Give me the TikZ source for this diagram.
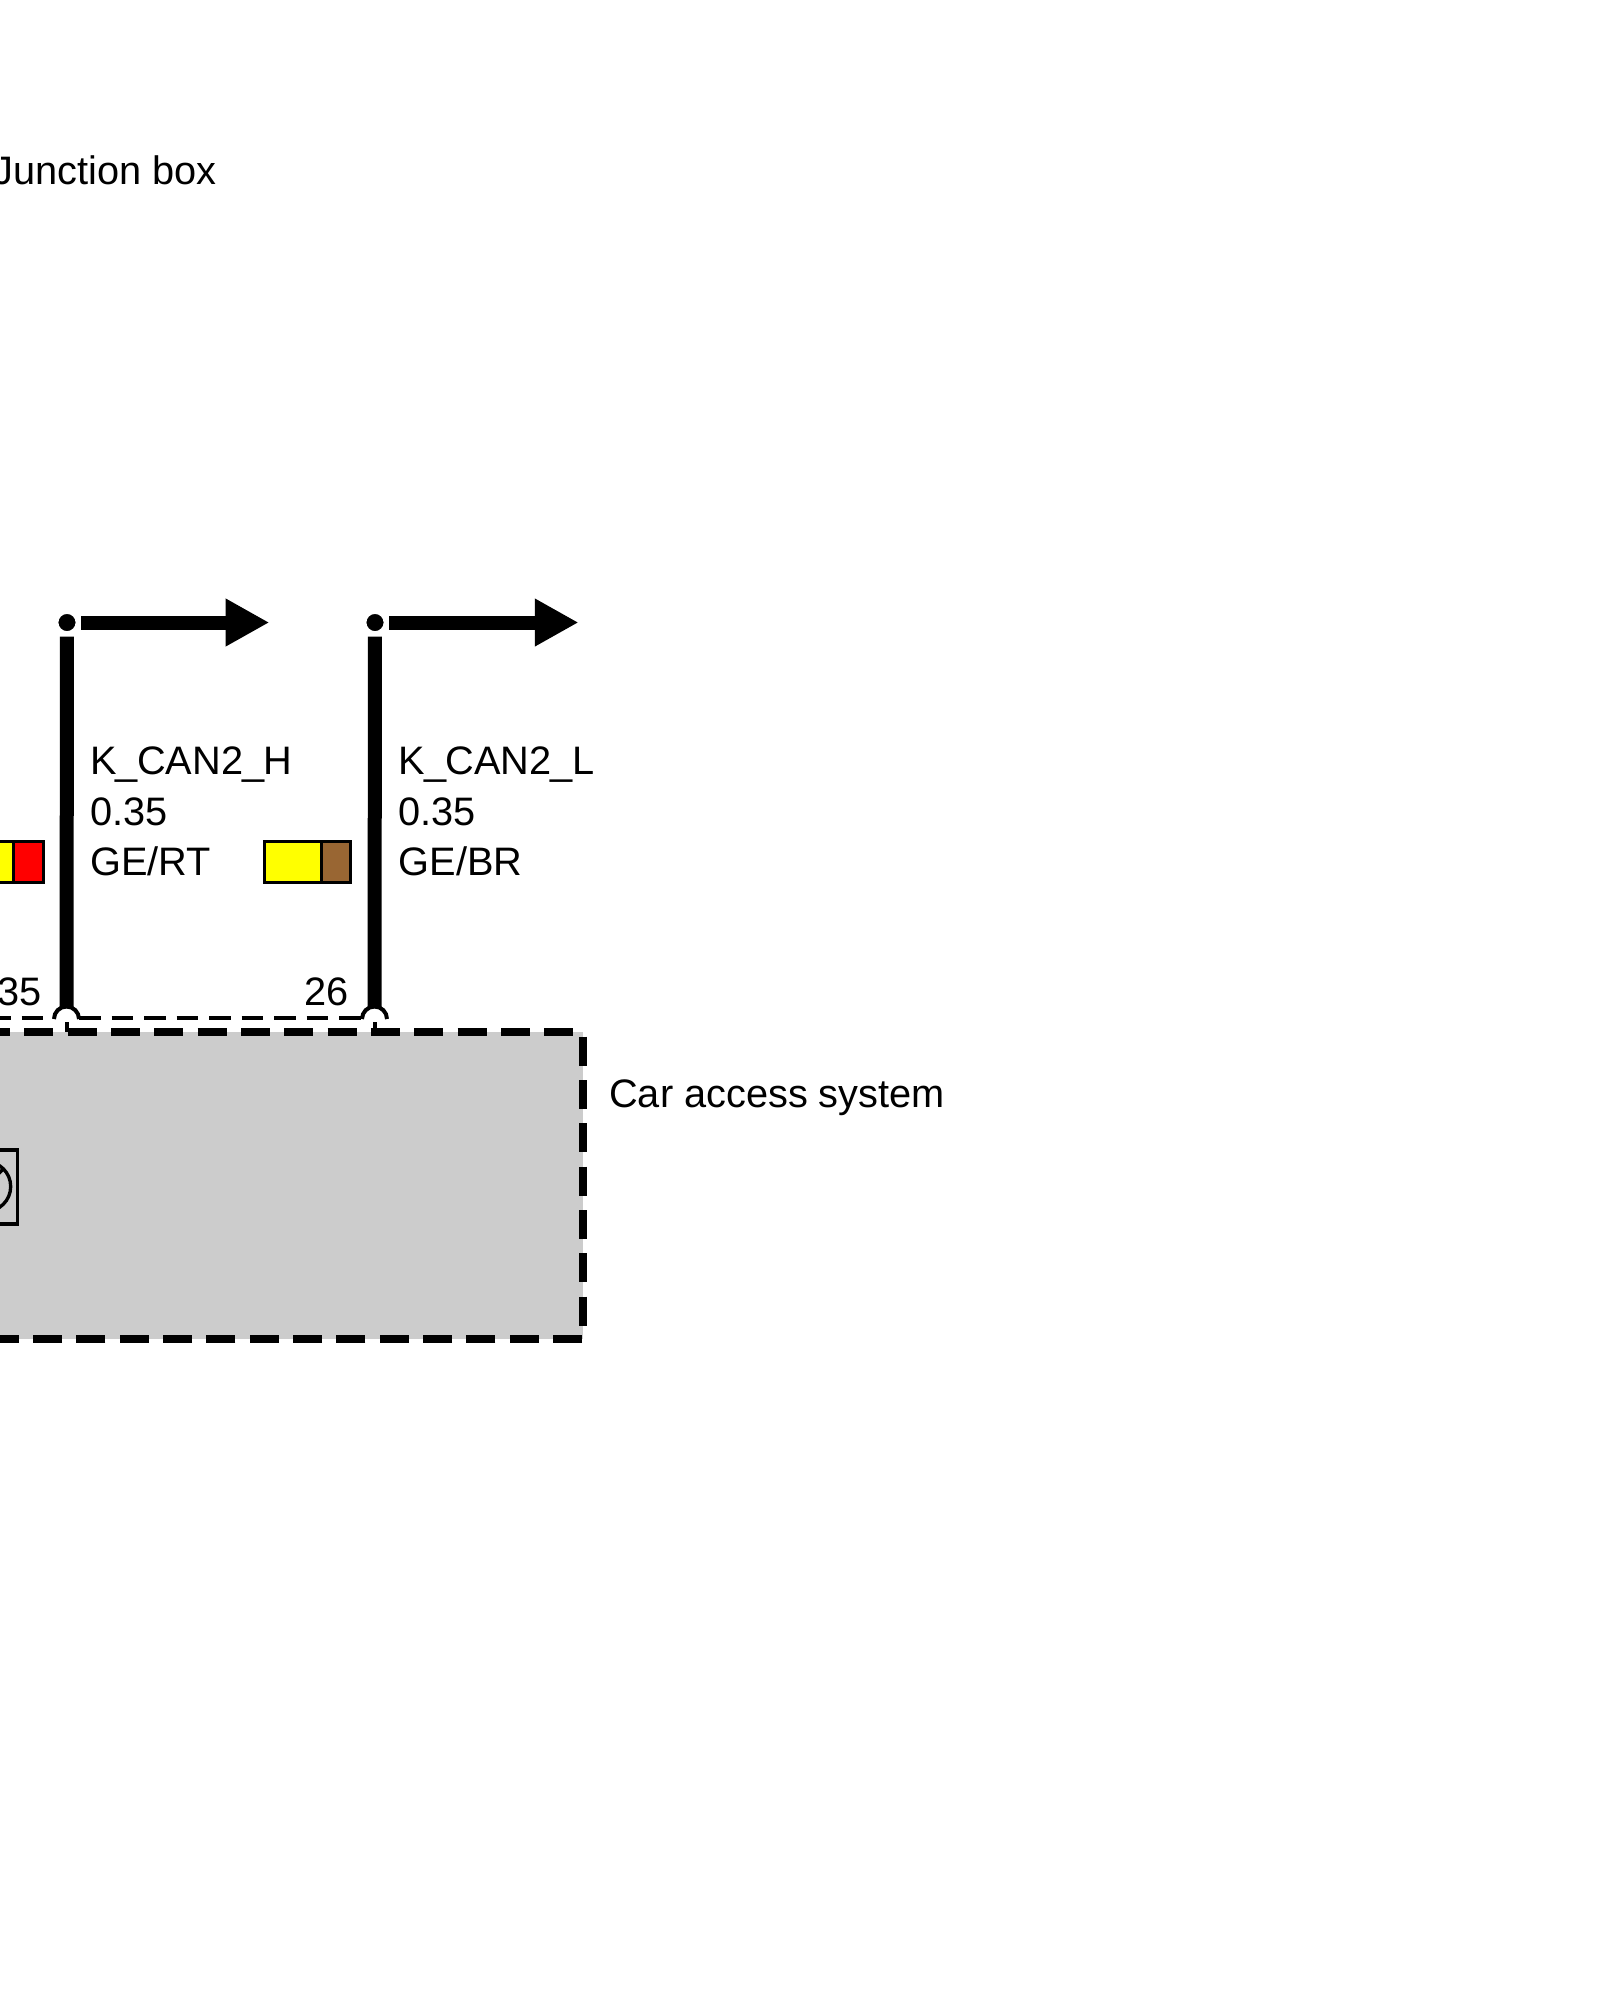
\documentclass[tikz,border=0pt]{standalone}
\usepackage{fontspec}
\setmainfont{Liberation Sans}
\usetikzlibrary{arrows.meta}
\definecolor{boxgrey}{HTML}{CCCCCC}
\definecolor{wirebrown}{HTML}{996633}
\definecolor{wireyellow}{HTML}{FFFF00}
\definecolor{wirered}{HTML}{FF0000}
\newcommand{\usc}{\kern-0.6pt\_\kern-0.6pt}
\tikzset{
    wire/.style={line width=10.5pt},
    busarrow/.style={line width=10.5pt,-{Triangle[length=32.7pt,width=33.5pt]}},
    junction/.style={circle,fill=black,draw=white,line width=5pt,inner sep=0pt,minimum size=18pt,outer sep=1.6pt},
    label/.style={inner sep=0pt,anchor=base west,font=\fontsize{29.8}{38}\selectfont},
    chip/.style={draw=black,line width=2.5pt},
    shield/.style={line width=2.6pt,dash pattern=on 16.2pt off 8.2pt},
    housing/.style={line width=5.5pt,dash pattern=on 21.75pt off 10.75pt},
}
\begin{document}
\begin{tikzpicture}[x=0.75pt,y=-0.75pt]
    \useasboundingbox (0,0) rectangle (1600,2000);
    \clip (0,0) rectangle (1600,2000);

    % control unit
    \fill[boxgrey] (-19,1032) rectangle (583,1339);
    \draw[housing] (-19,1032) -- (583,1032) -- (583,1339) -- (-19,1339);
    \draw[chip] (-60,1150) rectangle (17.5,1224);
    \draw[chip] (-14.3,1186.5) circle [radius=25];
    \draw[chip] (-14.3,1186.5) -- (3.4,1168.8);

    % shield between the pins
    \coordinate (shieldA) at (-10.8,1018);
    \coordinate (shieldB) at (53,1018);
    \coordinate (shieldC) at (79,1018);
    \coordinate (shieldD) at (361,1018);
    \draw[shield] (shieldA) -- (shieldB);
    \draw[shield] (shieldC) -- (shieldD);

    % pins
    \foreach \name/\xpos in {pinH/66.5,pinL/374.5}{
        \coordinate (\name) at (\xpos,1019);
        \draw[line width=3pt,fill=white] (\xpos-12.5,1019) arc [start angle=180,end angle=360,radius=12.5];
        \draw[line width=3pt] (\xpos,1022) -- (\xpos,1032);
    }

    % wires
    \node[junction] (dotH) at (67,622.5) {};
    \node[junction] (dotL) at (375,622.5) {};
    \coordinate (wireH) at (66.5,1008);
    \coordinate (wireL) at (374.5,1008);
    \coordinate (tipH) at (269.3,622.5);
    \coordinate (tipL) at (578.5,622.5);
    \draw[wire] (dotH) -- (wireH);
    \draw[wire] (dotL) -- (wireL);
    \draw[busarrow] (dotH) -- (tipH);
    \draw[busarrow] (dotL) -- (tipL);

    % colour chips
    \draw[chip,fill=wireyellow] (-44,841.7) rectangle (13.2,882.3);
    \draw[chip,fill=wirered] (13.2,841.7) rectangle (43.2,882.3);
    \draw[chip,fill=wireyellow] (264.4,841.7) rectangle (321.7,882.3);
    \draw[chip,fill=wirebrown] (321.7,841.7) rectangle (350.6,882.3);

    % texts
    \node[label] (title) at (-7,184) {Junction box};
    \node[label] (nameH) at (90,774) {K\usc CAN2\usc H};
    \node[label] (sizeH) at (90,825) {0.35};
    \node[label] (colourH) at (90,875) {GE/RT};
    \node[label] (nameL) at (398.5,774) {K\usc CAN2\usc L};
    \node[label] (sizeL) at (398.5,825) {0.35};
    \node[label] (colourL) at (398.5,875) {GE/BR};
    \node[label] (pinnoH) at (-3,1005) {35};
    \node[label] (pinnoL) at (304.5,1005) {26};
    \node[label] (unit) at (609,1107) {Car access system};
\end{tikzpicture}
\end{document}
